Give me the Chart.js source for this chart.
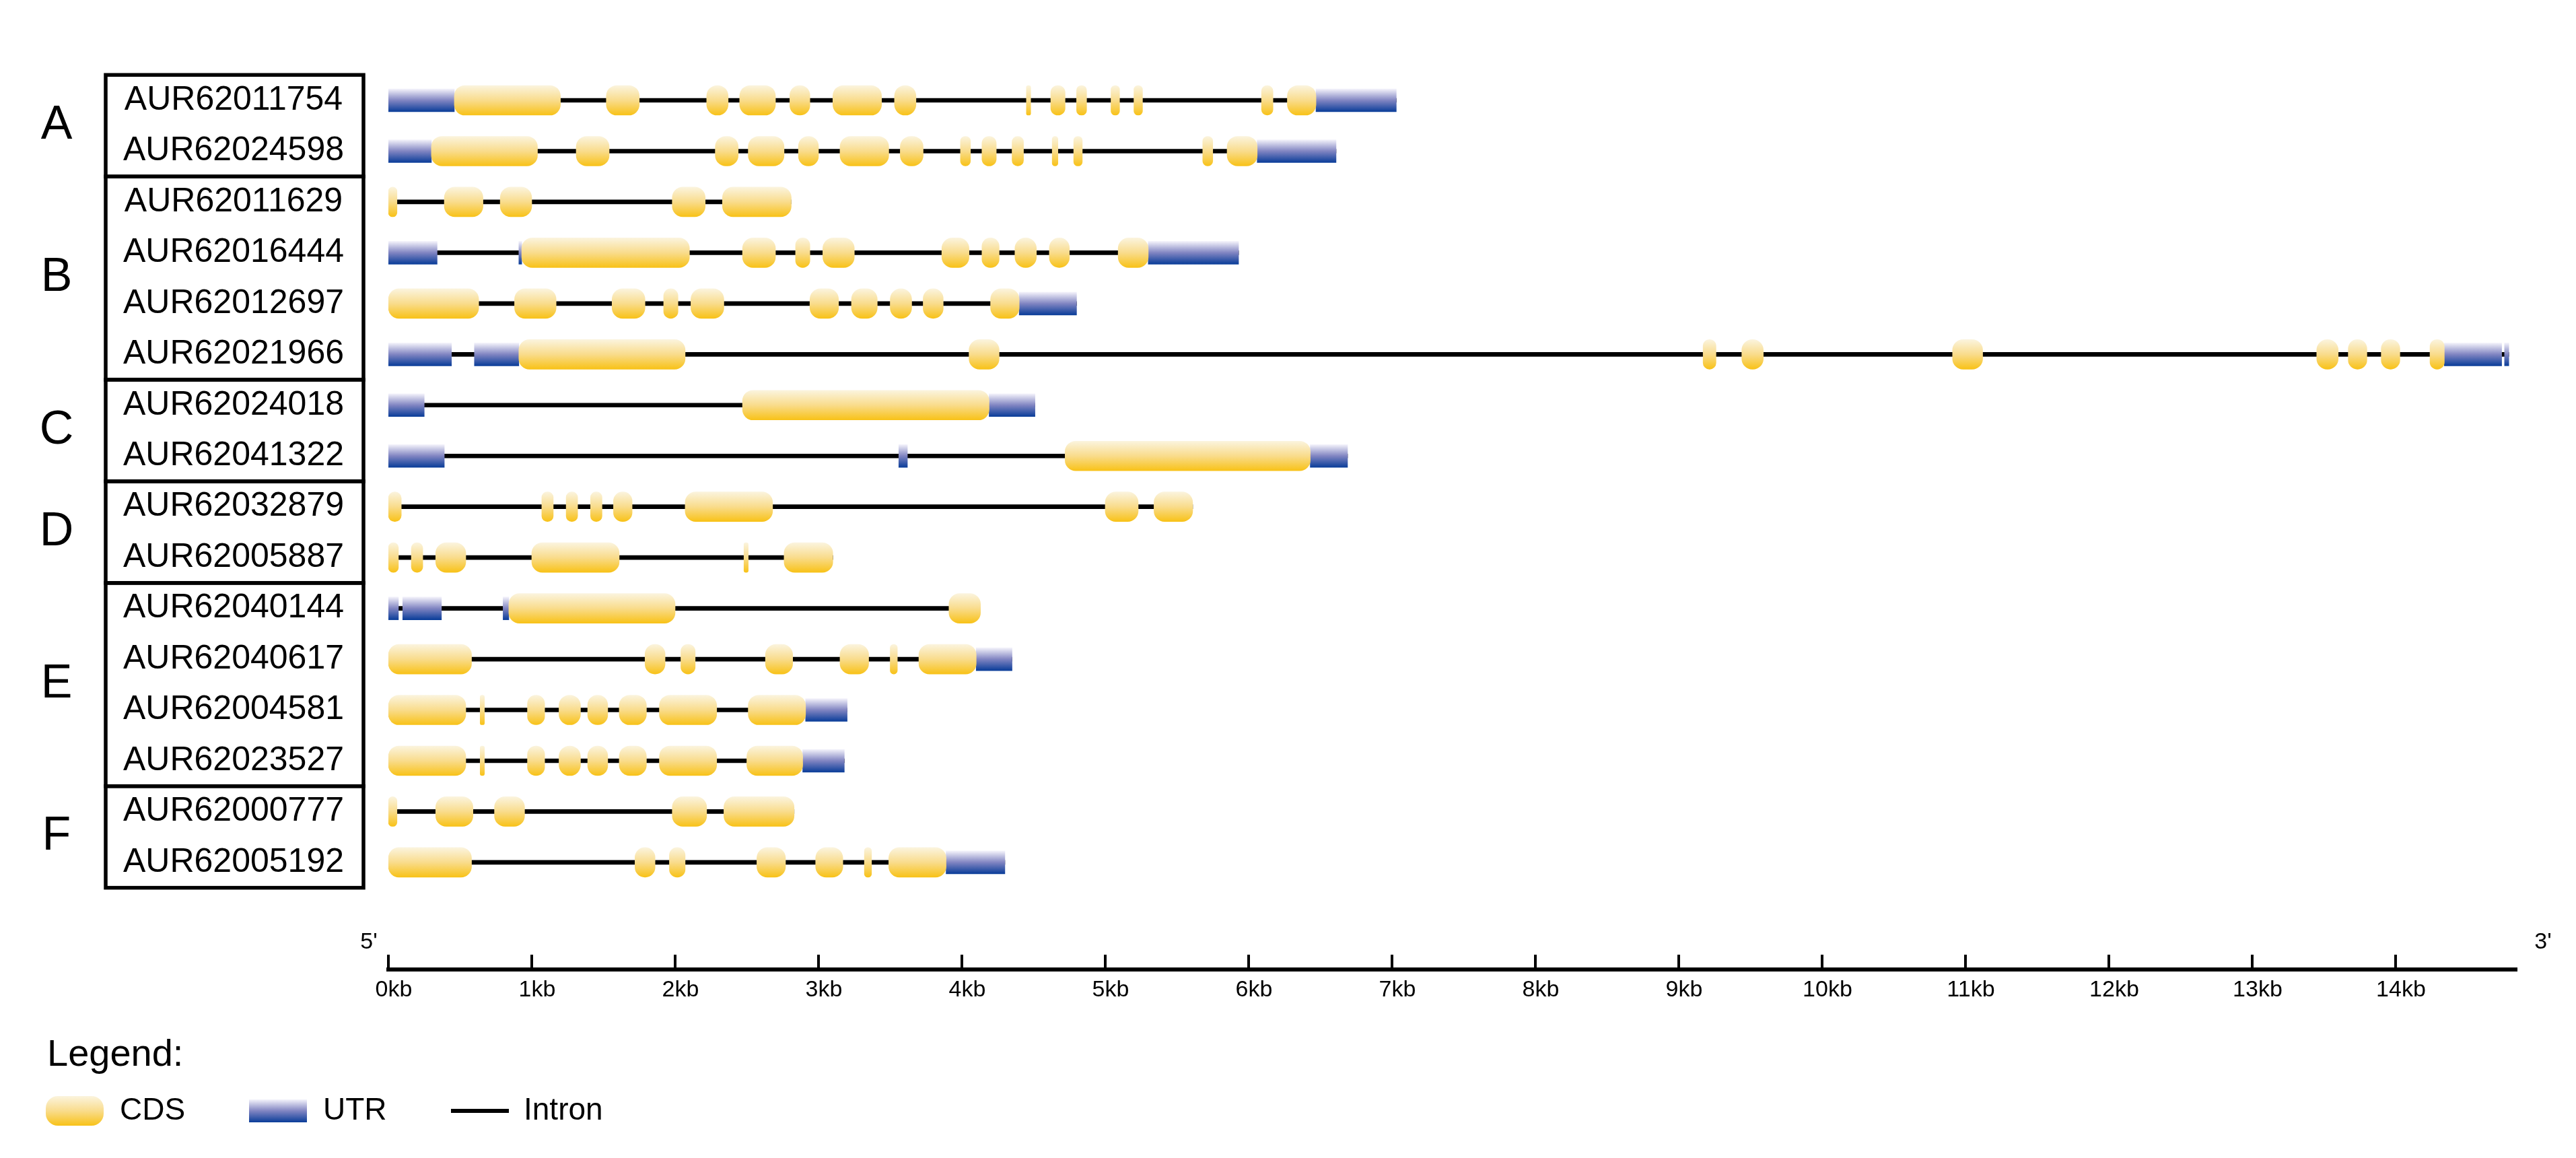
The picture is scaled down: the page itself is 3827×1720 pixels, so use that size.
<!DOCTYPE html>
<html><head><meta charset="utf-8">
<script src="https://cdn.jsdelivr.net/npm/chart.js@4.4.0/dist/chart.umd.min.js"></script>
<style>html,body{margin:0;padding:0;background:#fff}canvas{display:block}</style>
</head><body>
<canvas id="c" width="3827" height="1720" style="width:3827px;height:1720px"></canvas>
<script>
const genes = ["AUR62011754","AUR62024598","AUR62011629","AUR62016444","AUR62012697","AUR62021966","AUR62024018","AUR62041322","AUR62032879","AUR62005887","AUR62040144","AUR62040617","AUR62004581","AUR62023527","AUR62000777","AUR62005192"];
const groupNames = ["A","B","C","D","E","F"];
const groupFirst = [0,2,6,8,10,14];
const groupLast  = [1,5,7,9,13,15];
const geneLength = [7.03,6.61,2.81,5.93,4.80,14.79,4.51,6.69,5.61,3.10,4.13,4.35,3.20,3.18,2.83,4.30];
const cds = [
 [[0.46,1.2],[1.52,1.75],[2.22,2.37],[2.45,2.70],[2.80,2.94],[3.10,3.44],[3.53,3.68],[4.45,4.48],[4.62,4.72],[4.80,4.87],[5.04,5.10],[5.20,5.26],[6.09,6.17],[6.27,6.47]],
 [[0.30,1.04],[1.31,1.54],[2.28,2.44],[2.51,2.76],[2.86,3.00],[3.15,3.49],[3.57,3.73],[3.99,4.06],[4.14,4.24],[4.35,4.43],[4.63,4.67],[4.78,4.84],[5.68,5.75],[5.85,6.06]],
 [[0,0.06],[0.39,0.66],[0.78,1.0],[1.98,2.21],[2.33,2.81]],
 [[0.93,2.10],[2.47,2.70],[2.84,2.94],[3.03,3.25],[3.86,4.05],[4.14,4.26],[4.37,4.52],[4.61,4.75],[5.09,5.30]],
 [[0,0.63],[0.88,1.17],[1.56,1.79],[1.92,2.02],[2.11,2.34],[2.94,3.14],[3.23,3.41],[3.50,3.65],[3.73,3.87],[4.20,4.40]],
 [[0.91,2.07],[4.05,4.26],[9.17,9.26],[9.44,9.59],[10.91,11.12],[13.45,13.60],[13.67,13.80],[13.90,14.03],[14.24,14.34]],
 [[2.47,4.19]],
 [[4.72,6.43]],
 [[0,0.09],[1.07,1.15],[1.24,1.32],[1.41,1.49],[1.57,1.70],[2.07,2.68],[5.0,5.23],[5.34,5.61]],
 [[0,0.07],[0.16,0.24],[0.33,0.54],[1.0,1.61],[2.48,2.51],[2.76,3.10]],
 [[0.84,2.0],[3.91,4.13]],
 [[0,0.58],[1.79,1.93],[2.04,2.14],[2.63,2.82],[3.15,3.35],[3.50,3.55],[3.70,4.10]],
 [[0,0.54],[0.64,0.67],[0.97,1.09],[1.19,1.34],[1.39,1.53],[1.61,1.80],[1.89,2.29],[2.51,2.91]],
 [[0,0.54],[0.64,0.67],[0.97,1.09],[1.19,1.34],[1.39,1.53],[1.61,1.80],[1.89,2.29],[2.50,2.89]],
 [[0,0.06],[0.33,0.59],[0.74,0.95],[1.98,2.22],[2.34,2.83]],
 [[0,0.58],[1.72,1.86],[1.96,2.07],[2.57,2.77],[2.98,3.17],[3.32,3.37],[3.49,3.89]]
];
const utr = [
 [[0,0.46],[6.47,7.03]],
 [[0,0.30],[6.06,6.61]],
 [],
 [[0,0.34],[0.91,0.93],[5.30,5.93]],
 [[4.40,4.80]],
 [[0,0.44],[0.60,0.91],[14.34,14.74],[14.76,14.79]],
 [[0,0.25],[4.19,4.51]],
 [[0,0.39],[3.56,3.62],[6.43,6.69]],
 [],
 [],
 [[0,0.07],[0.10,0.37],[0.80,0.84]],
 [[4.10,4.35]],
 [[2.91,3.20]],
 [[2.89,3.18]],
 [],
 [[3.89,4.30]]
];
const tickValues = [0,1,2,3,4,5,6,7,8,9,10,11,12,13,14];
const tickLabels = tickValues.map(v => v + "kb");

const FONT = "'Liberation Sans', Arial, sans-serif";
function toPoints(arr){ const out=[]; arr.forEach((ex,i)=>ex.forEach(e=>out.push({x:[e[0],e[1]],y:i}))); return out; }

const cdsStops = [[0,'#fbf4de'],[0.5,'#f9dc8c'],[1,'#f8c218']];
const utrStops = [[0,'#f4f3fb'],[0.5,'#8185c2'],[1,'#0a3d99']];
function grad(ctx, half, stops){
  const fallback = stops[1][1];
  if(!ctx.raw || !ctx.chart.scales || !ctx.chart.scales.y) return fallback;
  const ch = ctx.chart; const y = ch.scales.y.getPixelForValue(ctx.raw.y);
  if(!isFinite(y)) return fallback;
  const g = ch.ctx.createLinearGradient(0,y-half,0,y+half);
  stops.forEach(s=>g.addColorStop(s[0],s[1])); return g;
}

const decor = {
  id:'decor',
  afterDatasetsDraw(chart){
    const c = chart.ctx, x = chart.scales.x, y = chart.scales.y;
    c.save();
    c.fillStyle='#000'; c.textBaseline='middle';
    c.font = "50px "+FONT; c.textAlign='center';
    genes.forEach((g,i)=>c.fillText(g,347,y.getPixelForValue(i)));
    c.lineWidth=5.5; c.strokeStyle='#000';
    groupNames.forEach((n,k)=>{
      const t=y.getPixelForValue(groupFirst[k]-0.5), b=y.getPixelForValue(groupLast[k]+0.5);
      c.strokeRect(157,t,383,b-t);
      c.font="70px "+FONT; c.fillText(n,84,(t+b)/2);
    });
    const ay = chart.chartArea.bottom;
    c.lineWidth=6; c.beginPath();
    c.moveTo(x.getPixelForValue(0)-3,ay); c.lineTo(x.getPixelForValue(x.max),ay); c.stroke();
    c.lineWidth=4;
    c.font="34px "+FONT; c.textBaseline='top';
    tickValues.forEach((v,i)=>{
      const px=x.getPixelForValue(v);
      c.beginPath(); c.moveTo(px,ay); c.lineTo(px,ay-22); c.stroke();
      c.fillText(tickLabels[i],px+8,ay+14);
    });
    c.textBaseline='middle';
    c.fillText("5'",548,ay-40);
    c.fillText("3'",3778,ay-40);
    c.textAlign='left';
    c.font="56px "+FONT; c.fillText("Legend:",70,ay+128);
    const ly=ay+210;
    const cg=c.createLinearGradient(0,ly-22,0,ly+22); cdsStops.forEach(s=>cg.addColorStop(s[0],s[1]));
    c.fillStyle=cg; c.beginPath(); c.roundRect(68,ly-22,86,44,18); c.fill();
    const ug=c.createLinearGradient(0,ly-17,0,ly+17); utrStops.forEach(s=>ug.addColorStop(s[0],s[1]));
    c.fillStyle=ug; c.fillRect(370,ly-17,86,34);
    c.fillStyle='#000'; c.fillRect(670,ly-3,86,6);
    c.font="46px "+FONT;
    c.fillText("CDS",178,ly); c.fillText("UTR",480,ly); c.fillText("Intron",778,ly);
    c.restore();
  }
};

new Chart(document.getElementById('c'),{
  type:'bar',
  data:{datasets:[
    {label:'Intron',data:geneLength.map((l,i)=>({x:[0,l],y:i})),backgroundColor:'#000',barThickness:6,order:3,grouped:false},
    {label:'UTR',data:toPoints(utr),backgroundColor:ctx=>grad(ctx,17,utrStops),barThickness:34,order:2,grouped:false},
    {label:'CDS',data:toPoints(cds),backgroundColor:ctx=>grad(ctx,22,cdsStops),barThickness:44,borderRadius:16,borderSkipped:false,order:1,grouped:false}
  ]},
  options:{
    indexAxis:'y', responsive:false, animation:false, devicePixelRatio:1,
    layout:{padding:{left:577,right:87,top:48,bottom:280}},
    plugins:{legend:{display:false},tooltip:{enabled:false}},
    scales:{
      x:{type:'linear',min:0,max:14.85,display:false},
      y:{type:'linear',min:-0.5,max:16.27,reverse:true,display:false}
    }
  },
  plugins:[decor]
});
</script>
</body></html>
